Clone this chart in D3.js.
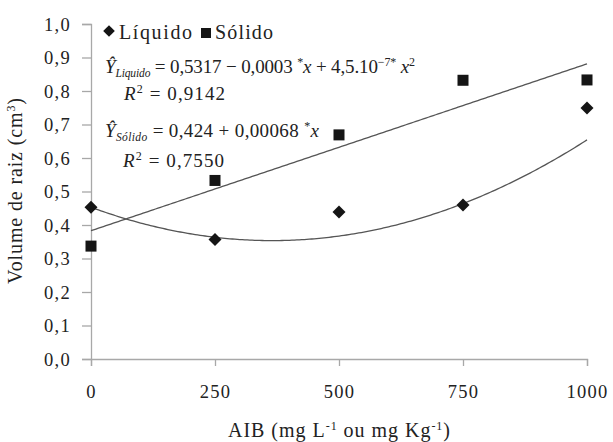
<!DOCTYPE html>
<html><head><meta charset="utf-8">
<script src="https://cdn.jsdelivr.net/npm/d3@7/dist/d3.min.js"></script>
</head><body style="margin:0">
<script>
const doses = [0, 250, 500, 750, 1000];
const liquido = [0.453, 0.357, 0.439, 0.460, 0.749];
const solido = [0.337, 0.533, 0.669, 0.832, 0.833];
// trend line coefficients as drawn (a, b, c)
const liquidoTrend = [0.453, -0.000545, 7.46e-7];
const solidoTrend = [0.383, 0.000498];
const xTicks = [0, 250, 500, 750, 1000];
const yTicks = [0, 0.1, 0.2, 0.3, 0.4, 0.5, 0.6, 0.7, 0.8, 0.9, 1.0];

const FONT = "Liberation Serif";
const W = 613, H = 442;
const svg = d3.select("body").append("svg").attr("width", W).attr("height", H)
  .style("display", "block");
const x = d3.scaleLinear().domain([0, 1000]).range([91, 587]);
const y = d3.scaleLinear().domain([0, 1]).range([359, 24]);
const fmt = v => d3.format(".1f")(v).replace(".", ",");

const axisColor = "#a8a8a8";
const ya = svg.append("g").attr("transform", `translate(${x(0)},0)`)
  .call(d3.axisLeft(y).tickValues(yTicks).tickSize(9).tickPadding(11).tickFormat(fmt));
const xa = svg.append("g").attr("transform", `translate(0,${y(0)})`)
  .call(d3.axisBottom(x).tickValues(xTicks).tickSize(7).tickPadding(13).tickFormat(d3.format("d")));
[ya, xa].forEach(g => {
  g.attr("font-family", FONT);
  g.select(".domain").attr("stroke", axisColor).attr("stroke-width", 1.3);
  g.selectAll(".tick line").attr("stroke", axisColor).attr("stroke-width", 1.3);
  g.selectAll(".tick text").attr("font-size", 18.5).attr("fill", "#222")
    .style("font-family", FONT).style("letter-spacing", "1.3px");
});
ya.selectAll(".tick text").attr("dy", "0.34em");
xa.selectAll(".tick text").attr("dy", null).attr("y", 39);

// trend lines
const xs = d3.range(0, 1001, 5);
const line = d3.line().x(d => x(d[0])).y(d => y(d[1]));
svg.append("path")
  .attr("d", line(xs.map(v => [v, liquidoTrend[0] + liquidoTrend[1]*v + liquidoTrend[2]*v*v])))
  .attr("fill", "none").attr("stroke", "#555").attr("stroke-width", 1.3);
svg.append("path")
  .attr("d", line(xs.map(v => [v, solidoTrend[0] + solidoTrend[1]*v])))
  .attr("fill", "none").attr("stroke", "#555").attr("stroke-width", 1.3);

// markers
const diamond = d3.symbol().type(d3.symbolSquare).size(85);
svg.selectAll(".liq").data(doses).enter().append("path")
  .attr("d", diamond)
  .attr("transform", (d, i) => `translate(${x(d)},${y(liquido[i])}) rotate(45)`)
  .attr("fill", "#151515");
svg.selectAll(".sol").data(doses).enter().append("rect")
  .attr("x", d => x(d) - 5.5).attr("y", (d, i) => y(solido[i]) - 5.5)
  .attr("width", 11).attr("height", 11).attr("fill", "#151515");

function T(sel, len) {
  sel.style("font-family", FONT).attr("fill", "#222");
  if (len) sel.attr("textLength", len).attr("lengthAdjust", "spacing");
  return sel;
}

// legend
svg.append("path").attr("d", d3.symbol().type(d3.symbolSquare).size(68)())
  .attr("transform", "translate(109,31) rotate(45)").attr("fill", "#151515");
T(svg.append("text"), 73).attr("x", 119).attr("y", 38.5).attr("font-size", 20).text("Líquido");
svg.append("rect").attr("x", 201).attr("y", 28).attr("width", 10).attr("height", 10).attr("fill", "#151515");
T(svg.append("text"), 58).attr("x", 215).attr("y", 38.5).attr("font-size", 20).text("Sólido");

// equations
function eq(xp, yp, len, sub, rest) {
  const t = T(svg.append("text"), len).attr("x", xp).attr("y", yp).attr("font-size", 19);
  t.append("tspan").attr("font-style", "italic").text("Ŷ");
  t.append("tspan").attr("font-style", "italic").attr("font-size", 11.5).attr("dy", 4).text(sub);
  t.append("tspan").attr("dy", -4).text(" ");
  rest(t);
}
eq(105, 72.5, 310, "Liquido", t => {
  t.append("tspan").text("= 0,5317 − 0,0003 ");
  t.append("tspan").attr("font-size", 12).attr("dy", -7).text("*");
  t.append("tspan").attr("font-style", "italic").attr("dy", 7).text("x");
  t.append("tspan").text(" + 4,5.10");
  t.append("tspan").attr("font-size", 12).attr("dy", -7).text("−7*");
  t.append("tspan").attr("font-style", "italic").attr("dy", 7).text(" x");
  t.append("tspan").attr("font-size", 12).attr("dy", -7).text("2");
});
function r2(xp, yp, val) {
  const t = T(svg.append("text"), 101).attr("x", xp).attr("y", yp).attr("font-size", 19);
  t.append("tspan").attr("font-style", "italic").text("R");
  t.append("tspan").attr("font-size", 12).attr("dy", -7).text("2");
  t.append("tspan").attr("dy", 7).text(" = " + val);
}
r2(124, 100, "0,9142");
eq(105, 136.5, 214, "Sólido", t => {
  t.append("tspan").text("= 0,424 + 0,00068 ");
  t.append("tspan").attr("font-size", 12).attr("dy", -7).text("*");
  t.append("tspan").attr("font-style", "italic").attr("dy", 7).text("x");
});
r2(123, 166.5, "0,7550");

// axis titles
const yt = T(svg.append("text"), 186).attr("transform", "translate(22,191) rotate(-90)")
  .attr("x", -93).attr("font-size", 20);
yt.append("tspan").text("Volume de raiz (cm");
yt.append("tspan").attr("font-size", 12).attr("dy", -7).text("3");
yt.append("tspan").attr("dy", 7).text(")");

const xt = T(svg.append("text"), 222).attr("x", 228).attr("y", 436.5).attr("font-size", 20);
xt.append("tspan").text("AIB (mg L");
xt.append("tspan").attr("font-size", 12).attr("dy", -7).text("-1");
xt.append("tspan").attr("dy", 7).text(" ou mg Kg");
xt.append("tspan").attr("font-size", 12).attr("dy", -7).text("-1");
xt.append("tspan").attr("dy", 7).text(")");
</script>
</body></html>
